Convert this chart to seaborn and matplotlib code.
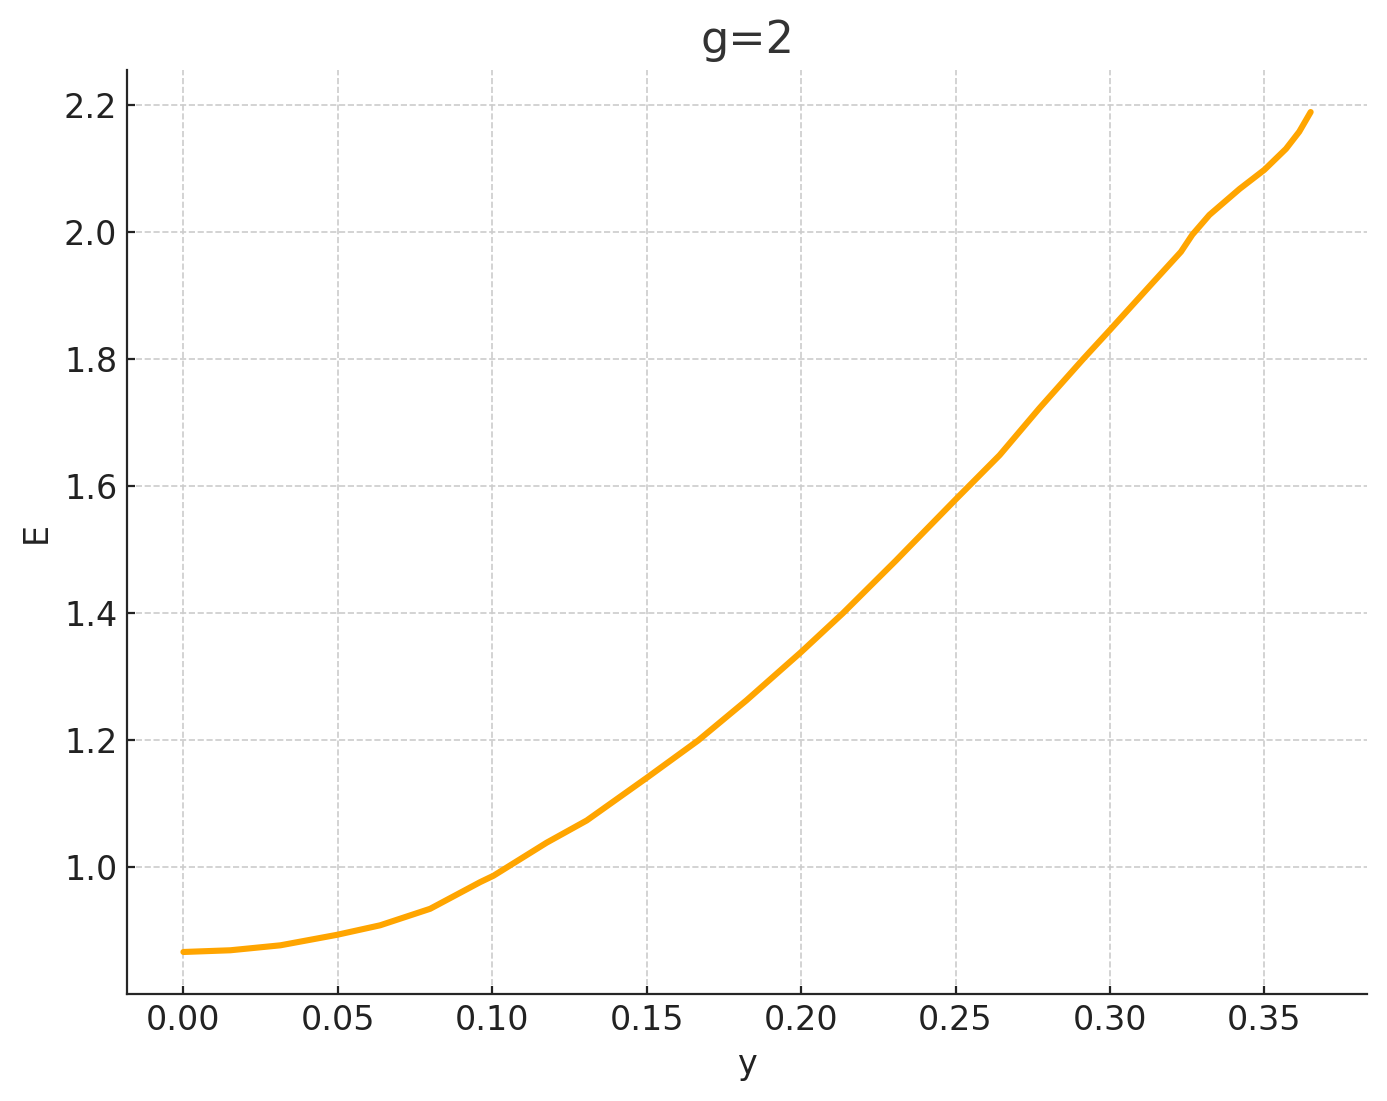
import matplotlib
matplotlib.use('Agg')
import matplotlib.pyplot as plt
import seaborn as sns
import pandas as pd

# values
y_vals = [0.0, 0.0152, 0.0314, 0.0497, 0.0637, 0.0799, 0.0961, 0.1004, 0.1176,
          0.1306, 0.15, 0.1667, 0.1823, 0.2, 0.2135, 0.2307, 0.2341, 0.25,
          0.2643, 0.2772, 0.2913, 0.3, 0.3138, 0.323, 0.3267, 0.3322, 0.342,
          0.35, 0.357, 0.3613, 0.365]
E_vals = [0.867, 0.8697, 0.8775, 0.894, 0.909, 0.935, 0.977, 0.987, 1.039,
          1.074, 1.141, 1.200, 1.263, 1.339, 1.400, 1.483, 1.500, 1.579,
          1.649, 1.723, 1.800, 1.846, 1.920, 1.969, 1.996, 2.027, 2.068,
          2.098, 2.131, 2.158, 2.189]

df = pd.DataFrame({'y': y_vals, 'E': E_vals})

sns.set_style('ticks')
plt.rcParams['font.family'] = ['DejaVu Sans']

fig, ax = plt.subplots(figsize=(6.935, 5.505), dpi=200)
fig.subplots_adjust(left=0.0916, right=0.9856, top=0.9364, bottom=0.0972)

sns.lineplot(data=df, x='y', y='E', color='orange', linewidth=2.2, ax=ax)

ax.grid(True, linestyle='--', color='#cccccc', linewidth=0.6)
sns.despine(ax=ax)
ax.tick_params(labelsize=12, colors='#222222', length=3, direction='in')
ax.set_title('g=2', fontsize=16, color='#333333')
ax.set_xlabel('y', fontsize=12, color='#222222')
ax.set_ylabel('E', fontsize=12, color='#222222')

plt.savefig('out.png', dpi=200)
